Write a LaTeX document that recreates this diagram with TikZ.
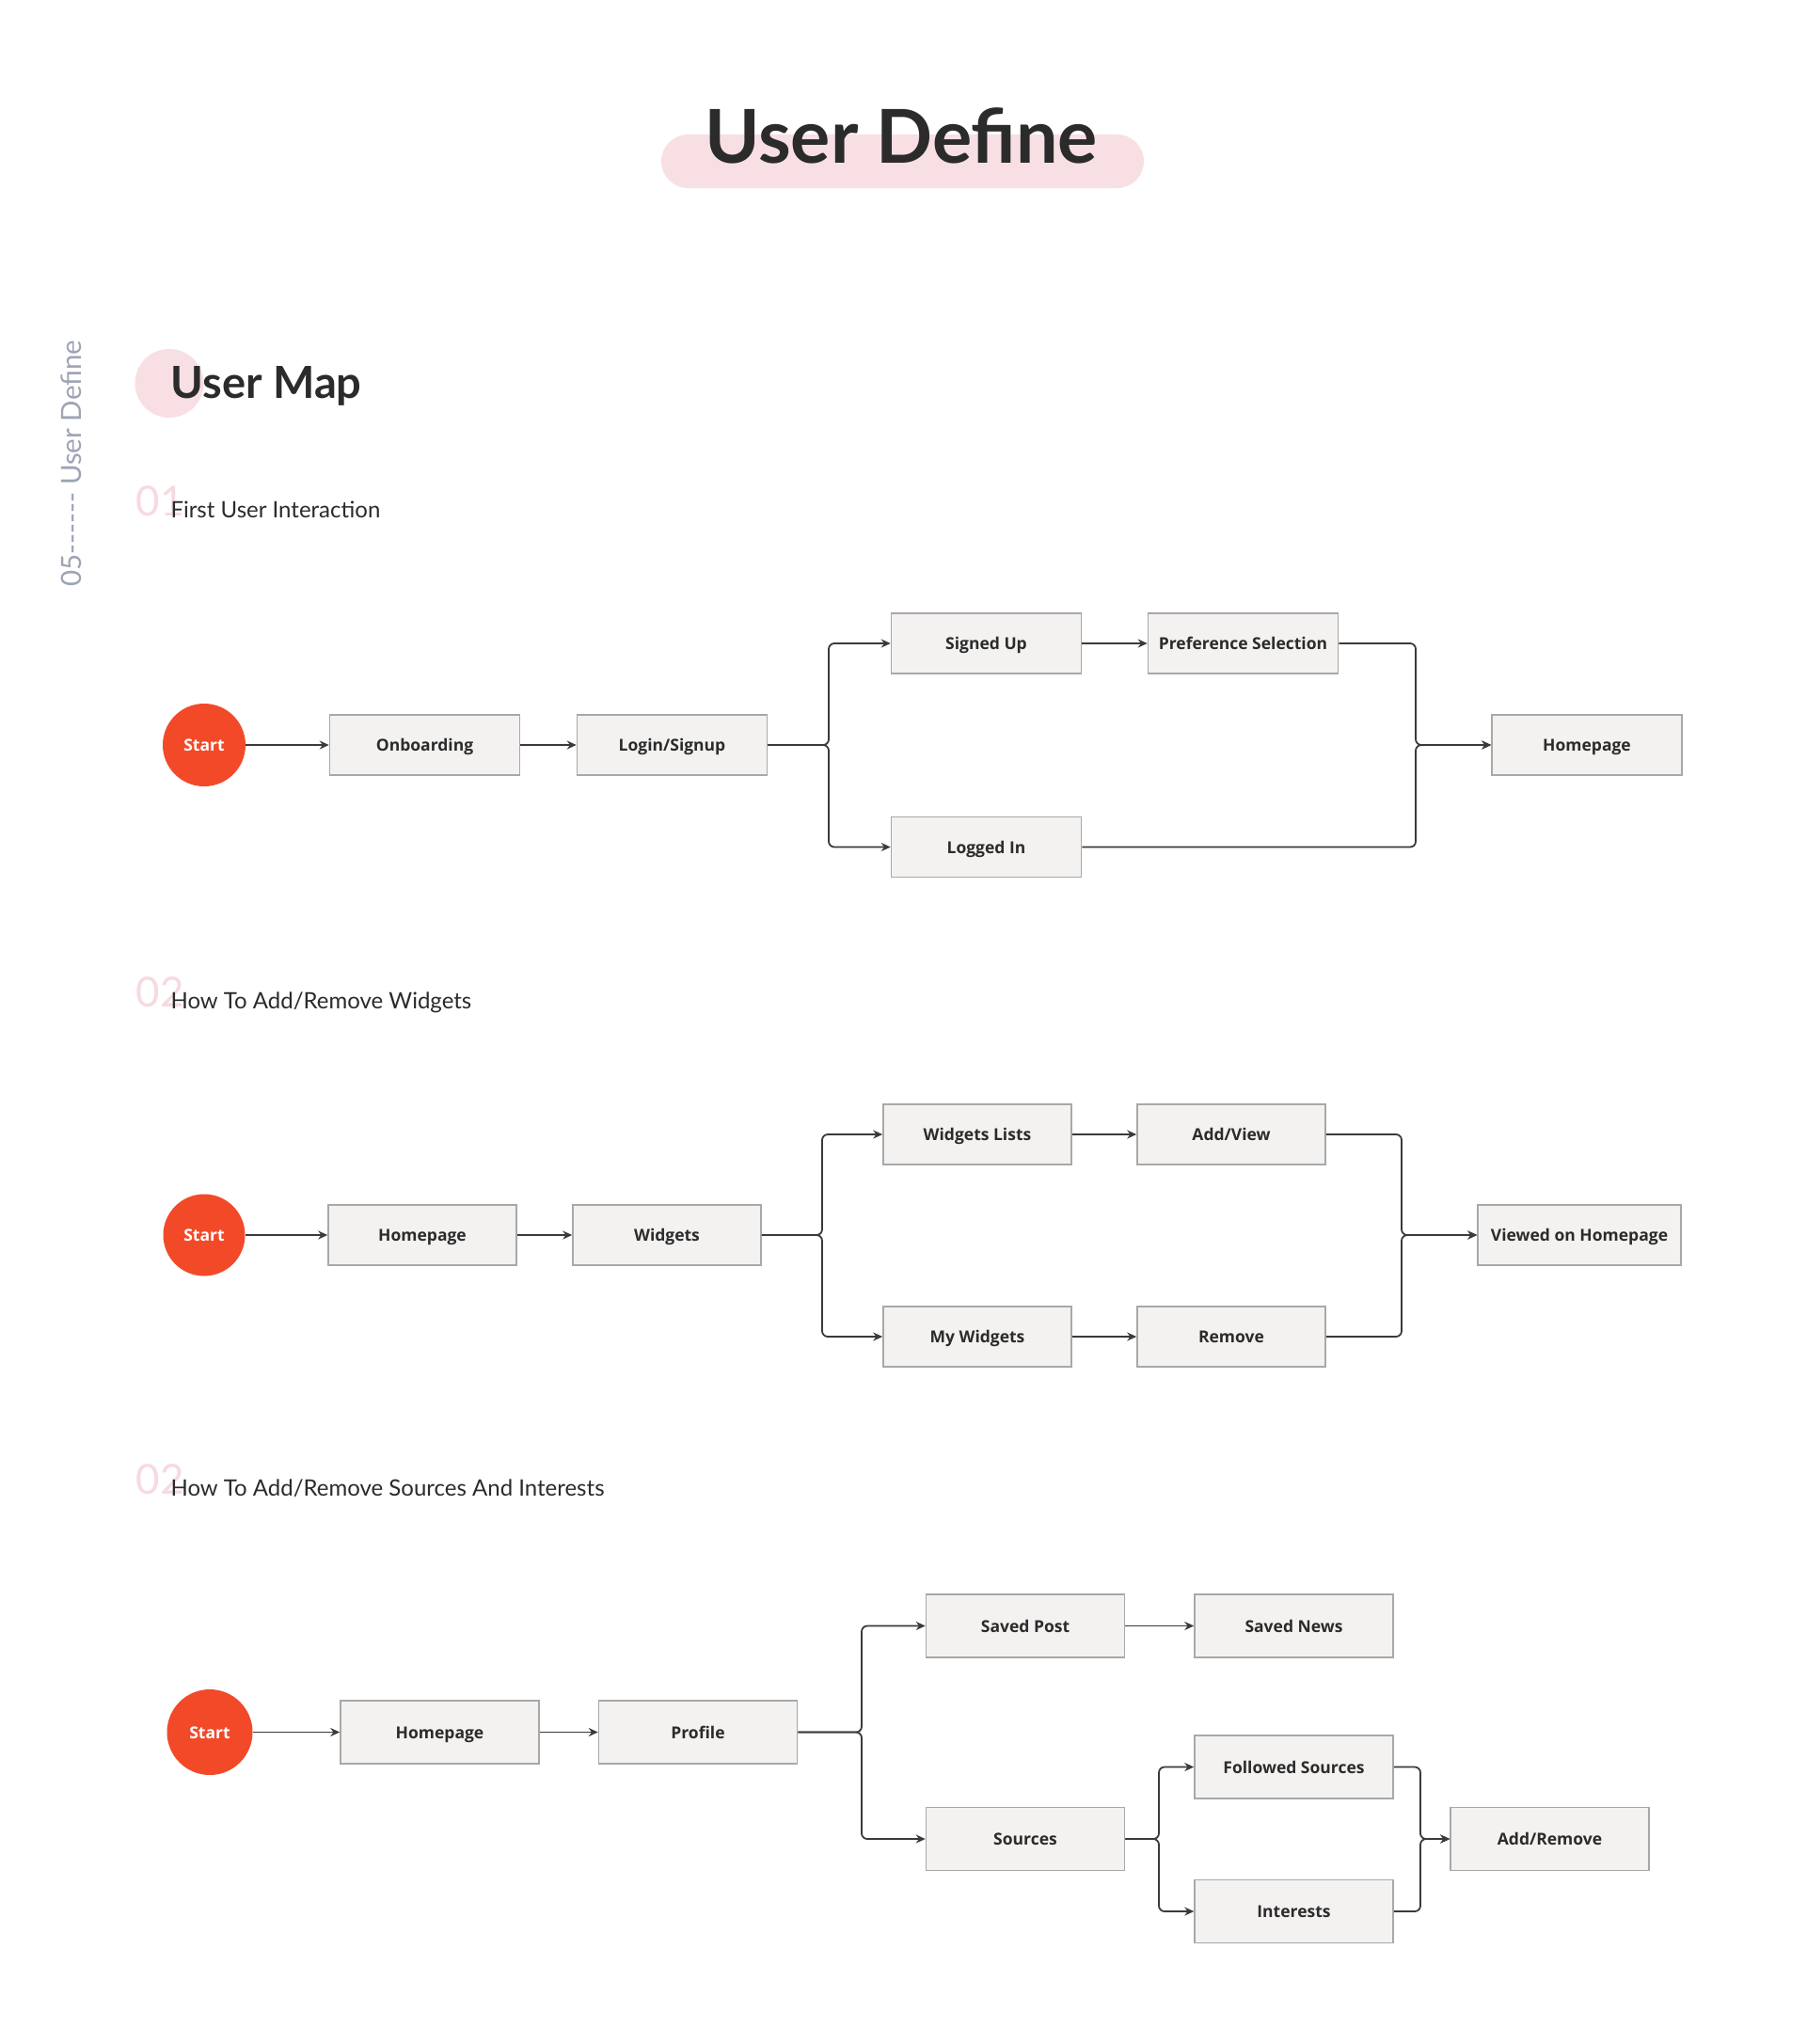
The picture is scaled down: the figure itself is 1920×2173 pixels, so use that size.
\documentclass[tikz,border=0pt]{standalone}
\usepackage{fontspec}
\setmainfont{Lato}
\newfontfamily\boxfont{Open Sans}
\usetikzlibrary{arrows.meta}
\usetikzlibrary{positioning}
\definecolor{ink}{HTML}{2B2B2B}
\definecolor{mpink}{HTML}{F8DFE3}
\definecolor{mnum}{HTML}{F7DADF}
\definecolor{mred}{HTML}{F24A29}
\definecolor{boxfill}{HTML}{F4F2F1}
\definecolor{boxline}{HTML}{A8A8A8}
\definecolor{wire}{HTML}{3A3A3A}
\definecolor{side}{HTML}{9EA3B5}
\newcommand\dsh{\mbox{-}}
\tikzset{stepbox/.style = {draw=boxline, line width=1.5pt, fill=boxfill,
                           minimum width=202pt, minimum height=64pt, inner sep=0,
                           text=ink, text depth=0pt, text height=13pt,
                           font=\boxfont\bfseries\fontsize{17.5}{20}\selectfont}}
\tikzset{widebox/.style = {stepbox, minimum width=211pt, minimum height=67pt}}
\tikzset{startdot/.style = {circle, fill=mred, minimum size=#1, inner sep=0,
                            text=white, text depth=0pt, text height=13pt,
                            font=\boxfont\bfseries\fontsize{17.5}{20}\selectfont}}
\tikzset{flow/.style = {draw=wire, line width=1.8pt, rounded corners=6pt,
                        -{Stealth[length=10pt, width=9pt]}}}
\tikzset{heading/.style = {anchor=base west, text=ink, font=\fontsize{24}{28}\selectfont}}
\tikzset{num/.style = {anchor=base west, text=mnum, font=\fontsize{44}{50}\selectfont}}

\begin{document}
\begin{tikzpicture}[x=1pt, y=-1pt]
    \fill[white] (0,0) rectangle (1920,2173);
    \useasboundingbox (0,0) rectangle (1920,2173);

    % title
    \fill[mpink, rounded corners=28.5pt] (703,143) rectangle (1216,200);
    \node[anchor=base, text=ink, font=\bfseries\fontsize{79}{84}\selectfont] (title) at (958,173) {User Define};
    \node[anchor=base west, rotate=90, text=side, font=\fontsize{29.5}{33}\selectfont] (side) at (86,627)
        {05\dsh\dsh\dsh\dsh\dsh\dsh\ User Define};

    \fill[mpink] (180,407.5) circle (36.5);
    \node[anchor=base west, text=ink, font=\bfseries\fontsize{47}{52}\selectfont] (map) at (178,423) {User Map};

    % 01
    \node[num] (n1) at (141,548) {01};
    \node[heading] (h1) at (178,550) {First User Interaction};

    \node[startdot=88pt] (start1) at (217,792) {Start};
    \node[stepbox] (onb) at (451.5,792) {Onboarding};
    \node[stepbox] (login) at (714.5,792) {Login/Signup};
    \node[stepbox] (signed) at (1048.5,684) {Signed Up};
    \node[stepbox] (pref) at (1321.5,684) {Preference Selection};
    \node[stepbox] (logged) at (1048.5,900.5) {Logged In};
    \node[stepbox] (home1) at (1687,792) {Homepage};
    \coordinate (b1) at (881,792);
    \coordinate (m1) at (1505,792);

    \draw[flow] (start1) -- (onb);
    \draw[flow] (onb) -- (login);
    \draw[flow] (login.east) -- (b1) |- (signed.west);
    \draw[flow] (login.east) -- (b1) |- (logged.west);
    \draw[flow] (signed) -- (pref);
    \draw[flow] (pref.east) -| (m1) -- (home1.west);
    \draw[flow] (logged.east) -| (m1) -- (home1.west);

    % 02
    \node[num] (n2) at (141,1070) {02};
    \node[heading] (h2) at (178,1072) {How To Add/Remove Widgets};

    \node[startdot=87pt] (start2) at (217,1313) {Start};
    \node[stepbox, minimum width=200pt] (home2) at (449,1313) {Homepage};
    \node[stepbox, minimum width=200pt] (widgets) at (709,1313) {Widgets};
    \node[stepbox, minimum width=200pt] (wlist) at (1039,1206) {Widgets Lists};
    \node[stepbox, minimum width=200pt] (addview) at (1309,1206) {Add/View};
    \node[stepbox, minimum width=200pt] (mywid) at (1039,1421) {My Widgets};
    \node[stepbox, minimum width=200pt] (remove) at (1309,1421) {Remove};
    \node[stepbox, minimum width=216pt] (viewed) at (1679,1313) {Viewed on Homepage};
    \coordinate (b2) at (874,1313);
    \coordinate (m2) at (1490,1313);

    \draw[flow] (start2) -- (home2);
    \draw[flow] (home2) -- (widgets);
    \draw[flow] (widgets.east) -- (b2) |- (wlist.west);
    \draw[flow] (widgets.east) -- (b2) |- (mywid.west);
    \draw[flow] (wlist) -- (addview);
    \draw[flow] (mywid) -- (remove);
    \draw[flow] (addview.east) -| (m2) -- (viewed.west);
    \draw[flow] (remove.east) -| (m2) -- (viewed.west);

    % 03
    \node[num] (n3) at (141,1588) {02};
    \node[heading] (h3) at (178,1590) {How To Add/Remove Sources And Interests};

    \node[startdot=91pt] (start3) at (223,1841.5) {Start};
    \node[widebox] (home3) at (467.5,1841.5) {Homepage};
    \node[widebox] (profile) at (742,1841.5) {Profile};
    \node[widebox] (spost) at (1090,1728.5) {Saved Post};
    \node[widebox] (snews) at (1375.5,1728.5) {Saved News};
    \node[widebox] (sources) at (1090,1955) {Sources};
    \node[widebox] (followed) at (1375.5,1878.5) {Followed Sources};
    \node[widebox] (interests) at (1375.5,2032) {Interests};
    \node[widebox] (addrem) at (1647.5,1955) {Add/Remove};
    \coordinate (b3) at (916,1841.5);
    \coordinate (b4) at (1232,1955);
    \coordinate (m3) at (1510,1955);

    \draw[flow] (start3) -- (home3);
    \draw[flow] (home3) -- (profile);
    \draw[flow] (profile.east) -- (b3) |- (spost.west);
    \draw[flow] (profile.east) -- (b3) |- (sources.west);
    \draw[flow] (spost) -- (snews);
    \draw[flow] (sources.east) -- (b4) |- (followed.west);
    \draw[flow] (sources.east) -- (b4) |- (interests.west);
    \draw[flow] (followed.east) -| (m3) -- (addrem.west);
    \draw[flow] (interests.east) -| (m3) -- (addrem.west);
\end{tikzpicture}
\end{document}
